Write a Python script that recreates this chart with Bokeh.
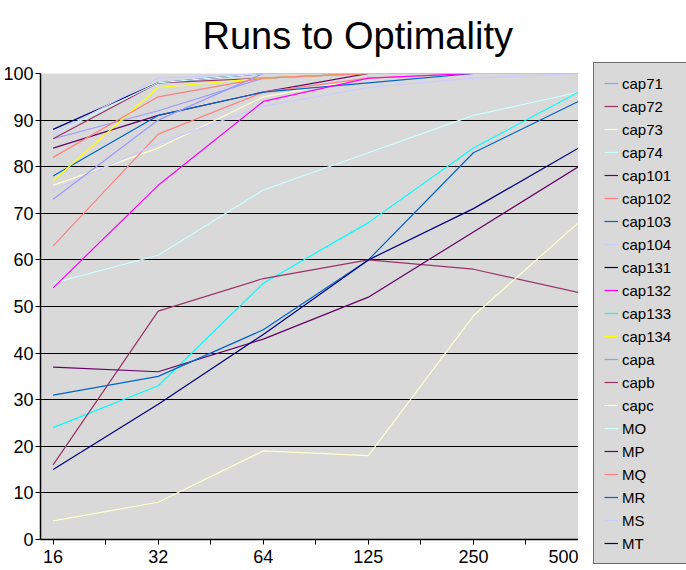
from bokeh.plotting import figure
from bokeh.layouts import row
from bokeh.models import Range1d, FixedTicker, Legend, LegendItem
from bokeh.embed import file_html
from bokeh.resources import INLINE

# Number of runs (category axis)
run_labels = ["16", "32", "64", "125", "250", "500"]

# Percentage of runs reaching the optimum, per instance
cap71 = [86, 92, 99, 100, 100, 100]
cap72 = [86, 98, 99, 100, 100, 100]
cap73 = [76, 84, 95, 99, 100, 100]
cap74 = [55, 61, 75, 83, 91, 96]
cap101 = [84, 91, 96, 100, 100, 100]
cap102 = [63, 87, 96, 99, 100, 100]
cap103 = [78, 91, 96, 98, 100, 100]
cap104 = [75, 85, 93, 97, 99, 100]
cap131 = [88, 98, 100, 100, 100, 100]
cap132 = [54, 76, 94, 99, 100, 100]
cap133 = [24, 33, 55, 68, 84, 96]
cap134 = [77, 97, 99, 100, 100, 100]
capa = [73, 90, 100, 100, 100, 100]
capb = [16, 49, 56, 60, 58, 53]
capc = [4, 8, 19, 18, 48, 68]
MO = [87, 98, 100, 100, 100, 100]
MP = [37, 36, 43, 52, 66, 80]
MQ = [82, 95, 99, 100, 100, 100]
MR = [31, 35, 45, 60, 83, 94]
MS = [87, 99, 100, 100, 100, 100]
MT = [15, 29, 44, 60, 71, 84]

series_names = ["cap71", "cap72", "cap73", "cap74", "cap101", "cap102", "cap103",
                "cap104", "cap131", "cap132", "cap133", "cap134", "capa", "capb",
                "capc", "MO", "MP", "MQ", "MR", "MS", "MT"]
series_values = [cap71, cap72, cap73, cap74, cap101, cap102, cap103, cap104,
                 cap131, cap132, cap133, cap134, capa, capb, capc, MO, MP, MQ,
                 MR, MS, MT]
palette = ["#9999FF", "#993366", "#FFFFCC", "#CCFFFF", "#660066", "#FF8080",
           "#0066CC", "#CCCCFF", "#000080", "#FF00FF", "#00FFFF", "#FFFF00"]

FONT = "Liberation Sans"
x_idx = list(range(len(run_labels)))

# ---- main chart -------------------------------------------------------
p = figure(width=578, height=570, output_backend="svg", toolbar_location=None,
           x_range=Range1d(-0.12, len(run_labels) - 1),
           y_range=Range1d(0, 100),
           min_border_left=40, min_border_right=0,
           min_border_top=73, min_border_bottom=31,
           background_fill_color="#D9D9D9", border_fill_color="white",
           outline_line_color=None)
p.frame_align = False

p.title.text = "Runs to Optimality"
p.title.text_font = FONT
p.title.text_font_size = "38px"
p.title.text_font_style = "normal"
p.title.text_color = "black"
p.title.align = "left"
p.title.vertical_align = "top"
p.title.offset = 162
p.title.standoff = 29

p.yaxis.ticker = FixedTicker(ticks=list(range(0, 101, 10)))
p.xaxis.ticker = FixedTicker(ticks=x_idx,
                             minor_ticks=[i + 0.5 for i in x_idx[:-1]])
p.xaxis.major_label_overrides = {i: lab for i, lab in enumerate(run_labels)}
for ax in (p.xaxis[0], p.yaxis[0]):
    ax.axis_line_color = "black"
    ax.axis_line_width = 1.5
    ax.major_tick_line_color = "black"
    ax.minor_tick_line_color = "black"
    ax.major_tick_out = 5
    ax.major_tick_in = 0
    ax.major_label_text_font = FONT
    ax.major_label_text_font_size = "18px"
    ax.major_label_text_color = "black"
    ax.major_label_standoff = 2
p.yaxis.minor_tick_line_color = None
p.xaxis.minor_tick_out = 5
p.xaxis.minor_tick_in = 0
p.xaxis.major_label_standoff = 5

p.xgrid.grid_line_color = None
p.ygrid.grid_line_color = "black"
p.ygrid.grid_line_width = 1
p.ygrid.ticker = FixedTicker(ticks=list(range(10, 101, 10)))

for k, vals in enumerate(series_values):
    p.line(x_idx, vals, line_color=palette[k % len(palette)], line_width=1.2)

# ---- legend panel -----------------------------------------------------
lf = figure(width=108, height=570, output_backend="svg", toolbar_location=None,
            x_axis_type=None, y_axis_type=None,
            min_border_left=0, min_border_right=0,
            min_border_top=0, min_border_bottom=0,
            background_fill_color="white", border_fill_color="white",
            outline_line_color=None)
lf.frame_align = False
lf.xgrid.grid_line_color = None
lf.ygrid.grid_line_color = None

nan = float("nan")
items = []
for k, name in enumerate(series_names):
    key = lf.line(x=[nan], y=[nan], line_color=palette[k % len(palette)],
                  line_width=1.2)
    items.append(LegendItem(label=name, renderers=[key]))

legend = Legend(items=items, location=(15, 6),
                background_fill_color="#D9D9D9", background_fill_alpha=1,
                border_line_color="black", border_line_width=1,
                label_text_font=FONT, label_text_font_size="15px",
                label_text_color="black",
                glyph_width=14, glyph_height=20, label_height=20,
                label_width=80, label_standoff=4, spacing=3, padding=10,
                margin=0)
lf.add_layout(legend, "center")

layout = row(p, lf, spacing=0)
open("out.html", "w").write(file_html(layout, INLINE))
